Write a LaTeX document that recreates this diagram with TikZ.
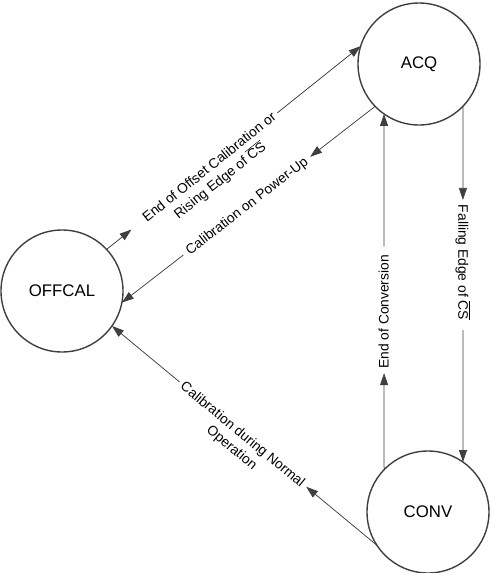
\documentclass[tikz,border=0pt]{standalone}
\usepackage{fontspec}
\setmainfont{Liberation Sans}
\usetikzlibrary{arrows.meta}
\definecolor{lc}{HTML}{3F3F3F}
\begin{document}
\begin{tikzpicture}[x=1pt,y=1pt,
  state/.style={circle, draw=lc, line width=1.4pt, minimum size=122pt, inner sep=0pt, outer sep=0pt, font=\fontsize{16.8}{20}\selectfont},
  conn/.style={draw=lc, line width=0.75pt, -{Triangle[length=12pt,width=8pt]}},
  lbl/.style={font=\fontsize{13.8}{16}\selectfont, text height=9.5pt, text depth=0.5pt, inner ysep=2pt, outer sep=0pt},
  lbltwo/.style={lbl, anchor=north, inner ysep=12pt},
]
\useasboundingbox (0,0) rectangle (491,-573);

\node[state] (acq) at (419,-64) {ACQ};
\node[state] (off) at (62,-291) {OFFCAL};
\node[state] (conv) at (428,-512) {CONV};

% OFFCAL -> ACQ
\path (off.43) -- (acq.163)
  node[lbl, sloped, pos=0.404, inner xsep=4pt] (l1a) {End of Offset Calibration or}
  node[lbltwo, sloped, pos=0.404] (l1b) {Rising Edge of $\overline{\mbox{CS}}$};
\draw[conn, shorten >=12.5pt] (off.43) -- (l1a.west);
\draw[conn] (l1a.east) -- (acq.163);

% ACQ -> OFFCAL
\path (acq.224) -- (off.-11)
  node[lbl, sloped, pos=0.507, inner xsep=5pt] (l2) {Calibration on Power-Up};
\draw[conn] (acq.224) -- (l2.east);
\draw[conn] (l2.west) -- (off.-11);

% CONV -> OFFCAL
\path (conv.213) -- (off.-35)
  node[lbl, sloped, pos=0.506, inner xsep=4pt] (l3a) {Calibration during Normal}
  node[lbltwo, sloped, pos=0.506] (l3b) {Operation};
\draw[conn] (conv.213) -- (l3a.east);
\draw[conn] (l3a.west) -- (off.-35);

% ACQ -> CONV
\path (acq.-44.3) -- (conv.55.3)
  node[lbl, rotate=-90, pos=0.439, inner xsep=5pt] (l4) {Falling Edge of $\overline{\mbox{CS}}$};
\draw[conn] (acq.-44.3) -- (l4.west);
\draw[conn, shorten <=5pt] (l4.east) -- (conv.55.3);

% CONV -> ACQ
\path (conv.136.2) -- (acq.-125)
  node[lbl, rotate=90, pos=0.4435, inner xsep=4.5pt] (l5) {End of Conversion};
\draw[conn] (conv.136.2) -- (l5.west);
\draw[conn, shorten <=4pt] (l5.east) -- (acq.-125);
\end{tikzpicture}
\end{document}
